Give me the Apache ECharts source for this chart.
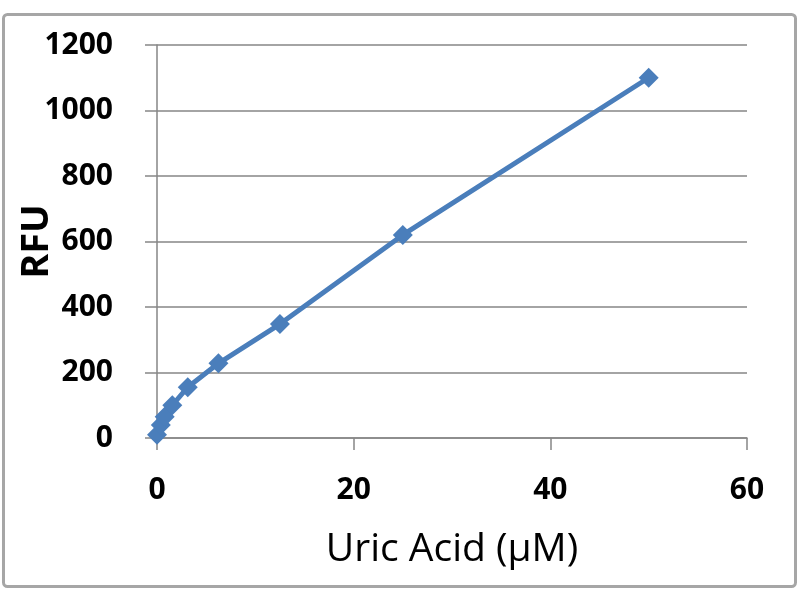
<!DOCTYPE html>
<html><head><meta charset="utf-8">
<script src="https://cdn.jsdelivr.net/npm/echarts@6/dist/echarts.min.js"></script>
<style>html,body{margin:0;padding:0;background:#fff}#c{width:800px;height:600px}</style>
</head><body><div id="c"></div>
<script>
const concentrations = [0, 0.39, 0.78, 1.56, 3.125, 6.25, 12.5, 25, 50];
const rfu = [10, 40, 65, 100, 155, 228, 348, 620, 1100];
const xTitle = 'Uric Acid (\u00b5M)';
const yTitle = 'RFU';
const chart = echarts.init(document.getElementById('c'));
const fontFam = '"Open Sans", Lato, sans-serif';
chart.setOption({
  animation: false,
  graphic: [{type:'rect', shape:{x:3.5,y:14.5,width:792,height:572,r:4}, style:{fill:'none', stroke:'#a6a6a6', lineWidth:3}, z:-1}],
  grid: {left:157, right:53, top:45, bottom:162, containLabel:false, outerBoundsMode:'none'},
  xAxis: {
    type:'value', min:0, max:60, interval:20,
    name:xTitle, nameLocation:'middle', nameGap:92, nameMoveOverlap:false,
    nameTextStyle:{fontFamily:fontFam, fontSize:39, color:'#000'},
    axisLine:{show:true, lineStyle:{color:'#868686', width:1.5}},
    axisTick:{show:true, inside:false, length:12, lineStyle:{color:'#868686', width:1.5}},
    axisLabel:{fontFamily:fontFam, fontSize:30, fontWeight:'bold', color:'#000', margin:37},
    splitLine:{show:false}
  },
  yAxis: {
    type:'value', min:0, max:1200, interval:200,
    name:yTitle, nameLocation:'middle', nameGap:101, nameRotate:90, nameMoveOverlap:false,
    nameTextStyle:{fontFamily:fontFam, fontSize:38, fontWeight:'bold', color:'#000'},
    axisLine:{show:true, lineStyle:{color:'#868686', width:1.5}},
    axisTick:{show:true, inside:false, length:12, lineStyle:{color:'#868686', width:1.5}},
    axisLabel:{fontFamily:fontFam, fontSize:30, fontWeight:'bold', color:'#000', margin:44, formatter: v => String(v)},
    splitLine:{show:true, lineStyle:{color:'#868686', width:1.5}}
  },
  series: [{
    type:'line',
    data: concentrations.map((x,i)=>[x, rfu[i]]),
    symbol:'diamond', symbolSize:20,
    lineStyle:{color:'#4a7ebb', width:5},
    itemStyle:{color:'#4a7ebb'}
  }]
});
</script></body></html>
